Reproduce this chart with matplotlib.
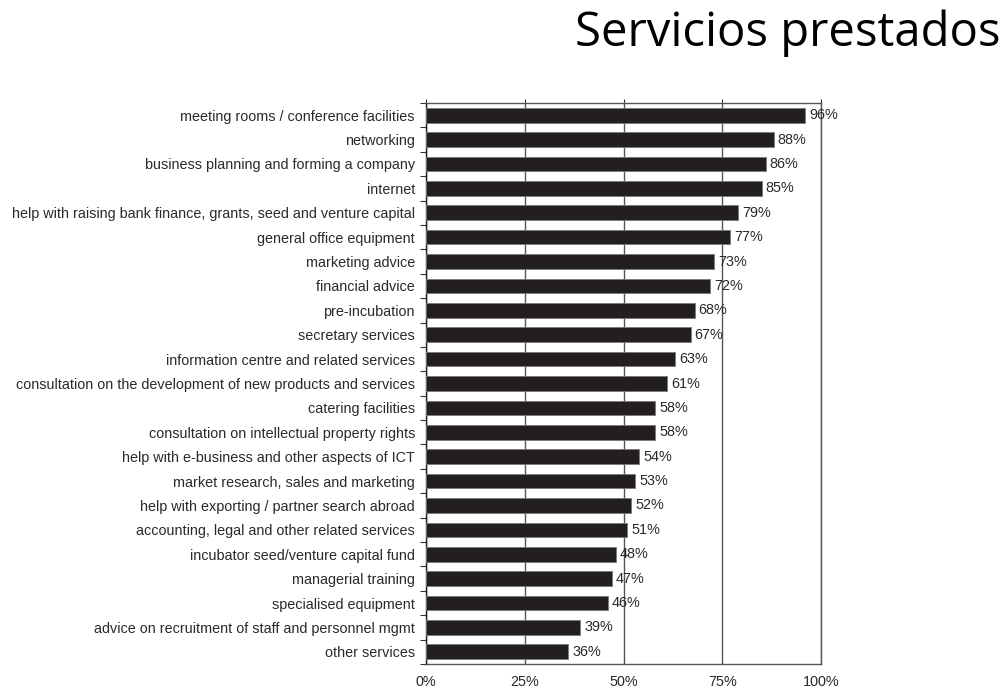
import matplotlib
matplotlib.use("Agg")
import numpy as np
from matplotlib import pyplot as plt

# Services offered, share of incubators (percent)
services = [
    "meeting rooms / conference facilities",
    "networking",
    "business planning and forming a company",
    "internet",
    "help with raising bank finance, grants, seed and venture capital",
    "general office equipment",
    "marketing advice",
    "financial advice",
    "pre-incubation",
    "secretary services",
    "information centre and related services",
    "consultation on the development of new products and services",
    "catering facilities",
    "consultation on intellectual property rights",
    "help with e-business and other aspects of ICT",
    "market research, sales and marketing",
    "help with exporting / partner search abroad",
    "accounting, legal and other related services",
    "incubator seed/venture capital fund",
    "managerial training",
    "specialised equipment",
    "advice on recruitment of staff and personnel mgmt",
    "other services",
]
shares = [96, 88, 86, 85, 79, 77, 73, 72, 68, 67, 63, 61, 58, 58,
          54, 53, 52, 51, 48, 47, 46, 39, 36]
x_ticks = [0, 25, 50, 75, 100]

plt.rcParams["font.family"] = ["Liberation Sans", "DejaVu Sans"]

fig = plt.figure(figsize=(10.06, 6.90), dpi=100)
ax = fig.add_axes([0.4235, 0.0377, 0.3926, 0.8130])

y = np.arange(len(services))
ax.barh(y, shares, height=0.6, color="#231f20", edgecolor="#7a7a7a",
        linewidth=0.6, zorder=3)

# value labels just right of each bar
for yi, v in zip(y, shares):
    ax.text(v + 1.0, yi, f"{v}%", va="center", ha="left",
            fontsize=10.4, color="#2a2a2a", zorder=4)

ax.set_xlim(0, 100)
ax.set_ylim(len(services) - 0.5, -0.5)

ax.set_yticks(y)
ax.set_yticklabels(services, fontsize=10.4, color="#2a2a2a")
ax.set_yticks(np.arange(len(services) + 1) - 0.5, minor=True)
ax.tick_params(axis="y", which="major", length=0, pad=8)
ax.tick_params(axis="y", which="minor", length=4, width=0.8,
               color="#333333", direction="out")

ax.set_xticks(x_ticks)
ax.set_xticklabels([f"{t}%" for t in x_ticks], fontsize=10.4, color="#2a2a2a")
ax.tick_params(axis="x", top=True, bottom=False, labeltop=False,
               labelbottom=True, length=3, width=0.8, color="#333333",
               pad=5)

ax.grid(axis="x", color="#555555", linewidth=1.0, zorder=1)
for s in ax.spines.values():
    s.set_color("#555555")
    s.set_linewidth(1.0)
ax.spines["left"].set_color("#222222")

fig.text(0.995, 0.952, "Servicios prestados", ha="right", va="center",
         fontsize=34, family="Open Sans", color="#000000")

fig.savefig("out.png", dpi=100)
